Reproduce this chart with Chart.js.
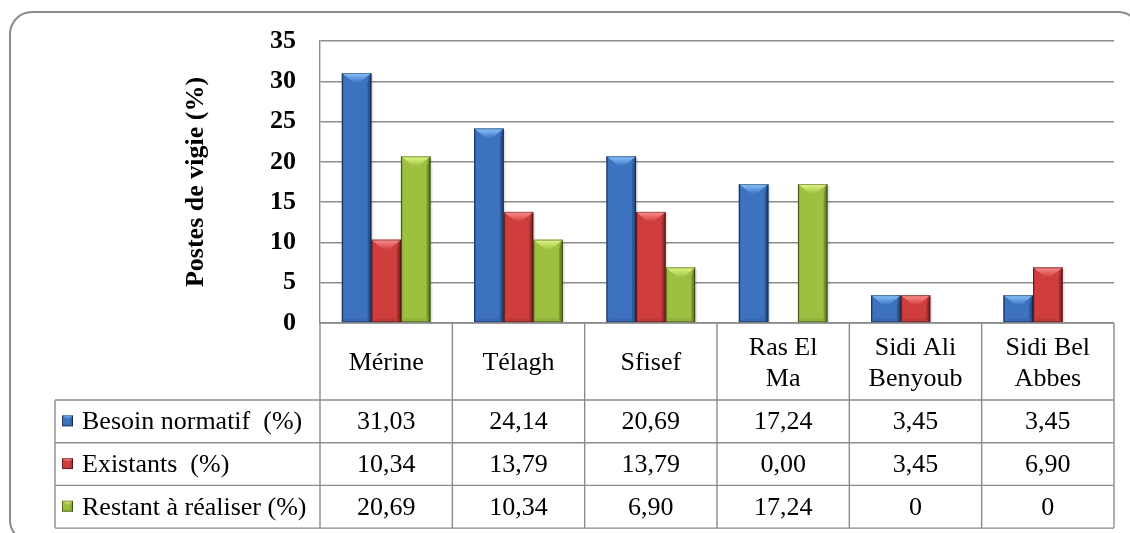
<!DOCTYPE html>
<html>
<head>
<meta charset="utf-8">
<script src="https://cdn.jsdelivr.net/npm/chart.js@4/dist/chart.umd.min.js"></script>
<style>
  html, body { margin: 0; padding: 0; background: #ffffff; }
  canvas { display: block; }
</style>
</head>
<body>
<canvas id="chart" width="1130" height="533"></canvas>
<script>
// Communes (multi-line labels for the table header)
const communes = [['Mérine'], ['Télagh'], ['Sfisef'], ['Ras El', 'Ma'], ['Sidi Ali', 'Benyoub'], ['Sidi Bel', 'Abbes']];

// Shares of watchtowers per commune (%)
const besoinNormatif = [31.03, 24.14, 20.69, 17.24, 3.45, 3.45];
const existants      = [10.34, 13.79, 13.79, 0.00, 3.45, 6.90];
const restant        = [20.69, 10.34, 6.90, 17.24, 0, 0];

const seriesNames = ['Besoin normatif  (%)', 'Existants  (%)', 'Restant à réaliser (%)'];
const zeroText    = ['0,00', '0,00', '0'];
const yTicks      = { min: 0, max: 35, step: 5 };

const palette = [
  { base: '#3d72c0', light: '#8cc6ff', dark: '#234a84' },
  { base: '#cf3d3d', light: '#ff9090', dark: '#8a2424' },
  { base: '#9dc041', light: '#e4fa88', dark: '#647d26' }
];

const seriesValues = [besoinNormatif, existants, restant];
const fmt = (v, s) => (v === 0 ? zeroText[s] : v.toFixed(2).replace('.', ','));

const SERIF = '"Liberation Serif", "Times New Roman", serif';
const LINE = '#8c8c8c';

// Bevelled face drawn on top of each bar element
function bevel(ctx, left, top, right, bottom, pal, depth) {
  const w = right - left, h = bottom - top;
  if (h <= 0 || w <= 0) return;
  const d = Math.min(depth, h / 2);
  const s = Math.min(4, w / 4);
  const cx = (left + right) / 2;
  const flat = w * 0.08;
  // body gradient
  const g = ctx.createLinearGradient(left, 0, right, 0);
  g.addColorStop(0, pal.dark);
  g.addColorStop(0.07, pal.base);
  g.addColorStop(0.5, pal.base);
  g.addColorStop(0.86, pal.base);
  g.addColorStop(1, pal.dark);
  ctx.fillStyle = g;
  ctx.fillRect(left, top, w, h);
  // right side band
  ctx.fillStyle = 'rgba(0,0,0,0.14)';
  ctx.beginPath();
  ctx.moveTo(right, top); ctx.lineTo(right - s, top + d); ctx.lineTo(right - s, bottom - s); ctx.lineTo(right, bottom);
  ctx.closePath(); ctx.fill();
  // bottom band
  ctx.fillStyle = 'rgba(0,0,0,0.07)';
  ctx.beginPath();
  ctx.moveTo(left, bottom); ctx.lineTo(left + s, bottom - s); ctx.lineTo(right - s, bottom - s); ctx.lineTo(right, bottom);
  ctx.closePath(); ctx.fill();
  // top highlight
  const tg = ctx.createLinearGradient(0, top, 0, top + d);
  tg.addColorStop(0, pal.light);
  tg.addColorStop(1, pal.base);
  ctx.fillStyle = tg;
  ctx.beginPath();
  ctx.moveTo(left, top); ctx.lineTo(right, top); ctx.lineTo(cx + flat, top + d); ctx.lineTo(cx - flat, top + d);
  ctx.closePath(); ctx.fill();
  // outline
  ctx.strokeStyle = 'rgba(0,0,0,0.38)';
  ctx.lineWidth = 1;
  ctx.strokeRect(left + 0.5, top + 0.5, w - 1, h - 1);
}

const barStyle = {
  id: 'barStyle',
  beforeDatasetsDraw(chart) {
    const ctx = chart.ctx;
    ctx.save();
    chart.data.datasets.forEach((ds, i) => {
      chart.getDatasetMeta(i).data.forEach(bar => {
        const p = bar.getProps(['x', 'y', 'base', 'width'], true);
        if (p.base - p.y < 1) return;
        ctx.fillStyle = 'rgba(0,0,0,0.10)';
        ctx.fillRect(p.x - p.width / 2 + 2, p.y + 2, p.width, p.base - p.y - 2);
      });
    });
    ctx.restore();
  },
  afterDatasetsDraw(chart) {
    const ctx = chart.ctx;
    ctx.save();
    chart.data.datasets.forEach((ds, i) => {
      chart.getDatasetMeta(i).data.forEach(bar => {
        const p = bar.getProps(['x', 'y', 'base', 'width'], true);
        bevel(ctx, p.x - p.width / 2, p.y, p.x + p.width / 2, p.base, palette[i], 10);
      });
    });
    ctx.restore();
  }
};

// Data table under the plot, columns taken from the category scale
const dataTable = {
  id: 'dataTable',
  afterDraw(chart) {
    const ctx = chart.ctx;
    const xs = chart.scales.x;
    const area = chart.chartArea;
    const n = communes.length;
    const step = xs.getPixelForTick(1) - xs.getPixelForTick(0);
    const cols = [];
    for (let i = 0; i <= n; i++) cols.push(xs.getPixelForTick(Math.min(i, n - 1)) + (i === n ? step / 2 : -step / 2));
    const headTop = area.bottom;
    const headBottom = headTop + 77;
    const rowH = 42.7;
    const rows = [headBottom, headBottom + rowH, headBottom + 2 * rowH, headBottom + 3 * rowH];
    const legendLeft = 55;

    ctx.save();
    ctx.strokeStyle = LINE;
    ctx.lineWidth = 1.4;
    ctx.beginPath();
    // header top (category axis line)
    ctx.moveTo(cols[0], headTop); ctx.lineTo(cols[n], headTop);
    rows.forEach(y => { ctx.moveTo(legendLeft, y); ctx.lineTo(cols[n], y); });
    // column separators
    cols.forEach(x => { ctx.moveTo(x, headTop); ctx.lineTo(x, rows[3]); });
    ctx.moveTo(legendLeft, rows[0]); ctx.lineTo(legendLeft, rows[3]);
    ctx.stroke();

    ctx.fillStyle = '#000';
    ctx.textAlign = 'center';
    ctx.textBaseline = 'middle';
    ctx.font = '26px ' + SERIF;
    // header labels
    const lineH = 31;
    communes.forEach((lines, i) => {
      const cx = (cols[i] + cols[i + 1]) / 2;
      const cy = (headTop + headBottom) / 2 + 2;
      lines.forEach((t, k) => {
        ctx.fillText(t, cx, cy + (k - (lines.length - 1) / 2) * lineH);
      });
    });
    // values
    seriesValues.forEach((vals, s) => {
      const cy = (rows[s] + rows[s + 1]) / 2 + 1;
      vals.forEach((v, i) => {
        ctx.fillText(fmt(v, s), (cols[i] + cols[i + 1]) / 2, cy);
      });
      // legend cell
      bevel(ctx, 62, cy - 7, 73, cy + 4, palette[s], 4);
      ctx.fillStyle = '#000';
      ctx.textAlign = 'left';
      ctx.fillText(seriesNames[s], 82, cy);
      ctx.textAlign = 'center';
    });
    ctx.restore();
  }
};

// Rounded frame around the whole figure
const frame = {
  id: 'frame',
  beforeDraw(chart) {
    const ctx = chart.ctx;
    ctx.save();
    ctx.fillStyle = '#fff';
    ctx.fillRect(0, 0, chart.width, chart.height);
    ctx.strokeStyle = '#8a8a8a';
    ctx.lineWidth = 2;
    ctx.beginPath();
    ctx.roundRect(10, 12, 1130, 530, 22);
    ctx.stroke();
    ctx.restore();
  }
};

new Chart(document.getElementById('chart'), {
  type: 'bar',
  data: {
    labels: communes,
    datasets: seriesNames.map((name, i) => ({
      label: name,
      data: seriesValues[i],
      backgroundColor: palette[i].base,
      borderWidth: 0
    }))
  },
  options: {
    responsive: false,
    animation: false,
    devicePixelRatio: 1,
    layout: { padding: { left: 160, top: 41, right: 16, bottom: 210 } },
    datasets: { bar: { categoryPercentage: 0.67, barPercentage: 1.0 } },
    plugins: { legend: { display: false }, tooltip: { enabled: false } },
    scales: {
      x: { display: false },
      y: {
        min: yTicks.min,
        max: yTicks.max,
        ticks: {
          stepSize: yTicks.step,
          padding: 24,
          color: '#000',
          font: { family: SERIF, size: 26, weight: 'bold' }
        },
        grid: { color: LINE, lineWidth: 1.4, drawTicks: false },
        border: { display: true, color: LINE, width: 1.4 },
        title: {
          display: true,
          text: 'Postes de vigie (%)',
          color: '#000',
          font: { family: SERIF, size: 26, weight: 'bold' },
          padding: { top: 21 }
        },
        afterFit(scale) { scale.width = 160; }
      }
    }
  },
  plugins: [frame, barStyle, dataTable]
});
</script>
</body>
</html>
